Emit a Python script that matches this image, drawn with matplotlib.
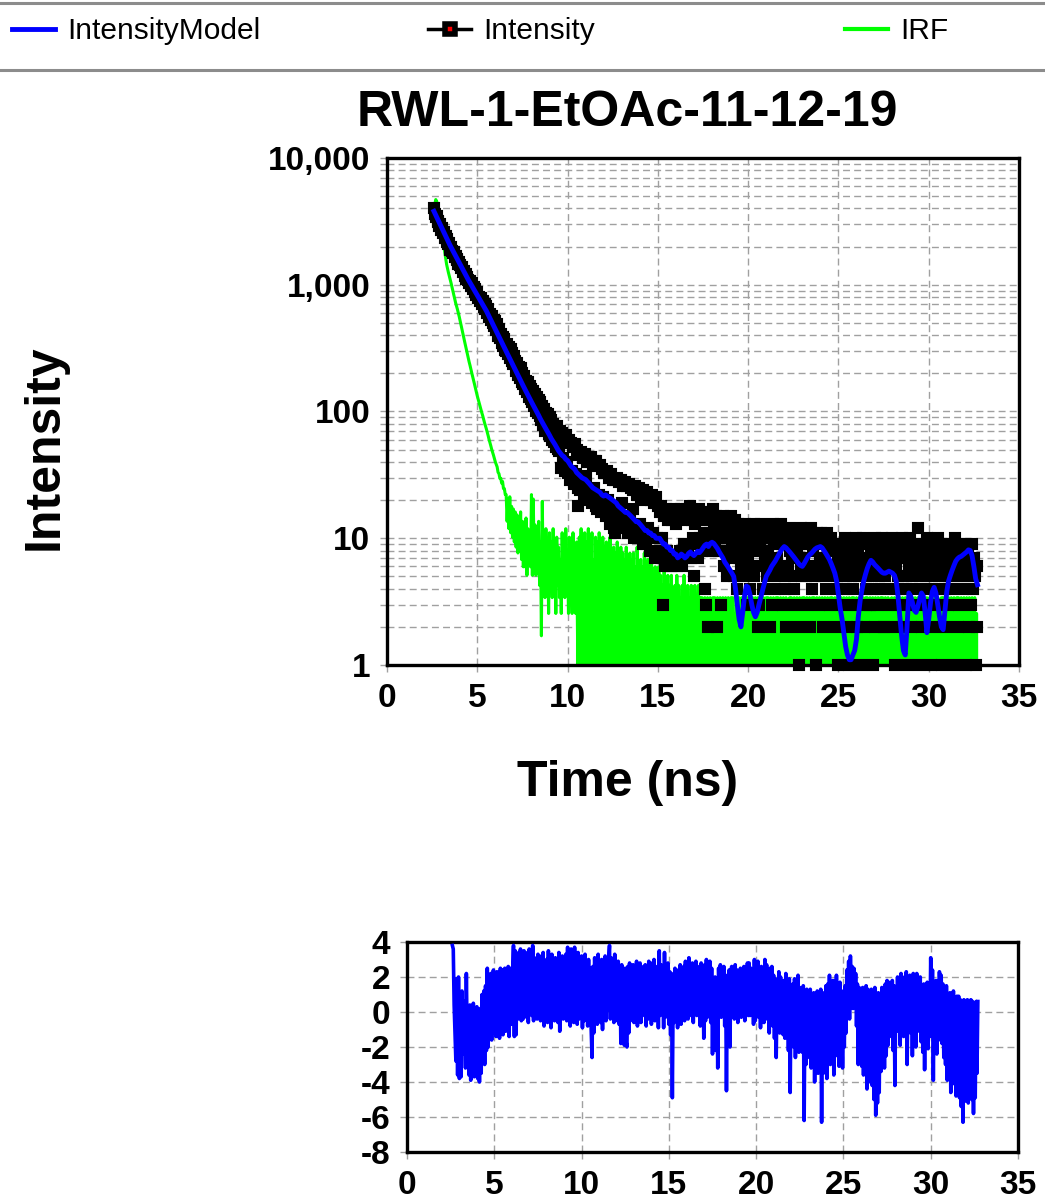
import numpy as np
import matplotlib
matplotlib.use("Agg")
import matplotlib.pyplot as plt
from matplotlib.lines import Line2D
from matplotlib.ticker import FixedLocator, FuncFormatter, LogLocator, NullFormatter

# ---------------- data ----------------
# Model curve: time grid starting at 2.6 ns, step 0.1 ns
T_START = 2.6
T_STEP_MODEL = 0.1
# Intensity / IRF / residuals: time grid starting at 2.6 ns, step 0.05 ns
T_STEP_FINE = 0.05

MODEL = [
    3800, 3545, 3308, 3086, 2879, 2686, 2506, 2338, 2182, 2035,
    1913, 1798, 1690, 1589, 1494, 1404, 1320, 1241, 1166, 1096,
    1036, 979, 925, 874, 826, 781, 738, 697, 659, 623,
    583, 545, 509, 476, 445, 416, 389, 364, 340, 318,
    298, 279, 261, 244, 228, 213, 200, 187, 175, 164,
    154, 144, 135, 127, 119, 112, 105, 99, 93, 87,
    82, 77, 73, 69, 65, 61, 58, 55, 52, 49,
    47, 45, 44, 42, 41, 39, 37, 36, 35, 33,
    32, 31, 30, 29.5, 29, 28, 27, 26, 25, 24.5,
    24, 23.5, 23, 22, 21.5, 22, 21.5, 21, 20.5, 20,
    19.5, 19, 18, 17.5, 17, 16.5, 16, 16, 15.5, 15,
    14.5, 14, 13.5, 13.5, 13, 12.5, 12, 11.5, 11.5, 11,
    11, 10.5, 10.5, 10, 10, 10, 9.5, 9, 9, 8.5,
    8.5, 8, 8, 7.5, 7.5, 7, 7.2, 7.5, 7.3, 7.0,
    7.2, 7.6, 7.8, 7.5, 7.3, 7.6, 7.9, 7.7, 8.0, 8.4,
    8.8, 9.0, 8.6, 9.1, 9.3, 9.1, 8.7, 8.3, 7.8, 7.4,
    7.0, 6.5, 6.2, 5.9, 5.6, 5.3, 5.0, 4.0, 3.0, 2.3,
    2.0, 2.6, 3.5, 4.2, 4.1, 3.6, 3.0, 2.6, 2.4, 2.6,
    3.0, 3.4, 3.9, 4.4, 5.0, 5.3, 5.6, 6.0, 6.3, 6.6,
    7.0, 7.4, 7.9, 8.3, 8.6, 8.4, 8.1, 7.8, 7.5, 7.2,
    6.9, 6.6, 6.3, 6.1, 6.0, 6.3, 6.7, 7.1, 7.4, 7.6,
    7.9, 8.2, 8.4, 8.5, 8.6, 8.4, 8.0, 7.6, 7.2, 6.8,
    6.3, 5.8, 5.3, 4.6, 3.6, 2.8, 2.3, 1.8, 1.4, 1.2,
    1.1, 1.1, 1.2, 1.3, 1.6, 2.4, 3.2, 3.9, 4.6, 5.2,
    5.8, 6.3, 6.7, 6.5, 6.2, 6.0, 5.8, 5.6, 5.4, 5.3,
    5.3, 5.4, 5.5, 5.4, 5.3, 5.1, 4.6, 3.5, 2.4, 1.7,
    1.3, 1.2, 2.0, 3.7, 3.5, 3.1, 2.7, 2.6, 2.9, 3.3,
    3.7, 3.5, 2.6, 1.8, 2.3, 3.1, 3.8, 4.1, 3.7, 3.0,
    2.4, 2.0, 1.9, 2.7, 3.8, 4.6, 5.1, 5.6, 6.1, 6.6,
    6.9, 7.1, 7.2, 7.4, 7.6, 7.8, 8.1, 8.0, 7.3, 6.0,
    4.8, 4.3,
]

INTENSITY = [
    4030, 3640, 3420, 3470, 3150, 3200, 2900, 3010, 2700, 2790,
    2560, 2610, 2350, 2430, 2190, 2280, 2090, 2130, 1880, 1990,
    1850, 1770, 1810, 1660, 1700, 1560, 1600, 1450, 1500, 1420,
    1350, 1370, 1250, 1290, 1180, 1215, 1120, 1150, 1090, 1040,
    1070, 980, 1040, 930, 960, 880, 930, 830, 870, 790,
    800, 750, 790, 710, 740, 670, 700, 640, 680, 600,
    640, 560, 590, 525, 570, 500, 530, 470, 520, 440,
    490, 395, 450, 380, 410, 350, 390, 330, 370, 305,
    300, 340, 285, 320, 265, 310, 250, 290, 235, 275,
    250, 210, 240, 195, 225, 185, 220, 172, 200, 165,
    190, 150, 175, 142, 170, 130, 160, 125, 150, 118,
    145, 110, 138, 100, 130, 97, 123, 92, 118, 86,
    110, 78, 104, 70, 98, 74, 95, 66, 90, 64,
    85, 60, 80, 57, 74, 52, 77, 51, 70, 49,
    70, 36, 68, 43, 62, 34, 65, 40, 58, 33,
    60, 29, 56, 34, 52, 27, 55, 32, 50, 25,
    18, 45, 24, 48, 29, 43, 22, 46, 31, 40,
    42, 20, 40, 23, 44, 19, 38, 25, 41, 18,
    41, 17, 37, 22, 38, 16, 35, 21, 33, 17,
    33, 15, 34, 20, 30, 13, 32, 16, 29, 12,
    11, 29, 14, 30, 17, 28, 13, 29, 19, 26,
    27, 12, 28, 15, 26, 11, 27, 14, 25, 12,
    17, 24, 10, 26, 12, 22, 11, 25, 13, 21,
    22, 9, 24, 11, 20, 9, 23, 12, 21, 8,
    20, 8, 22, 11, 19, 7, 21, 10, 18, 8,
    16, 7, 18, 10, 3, 15, 6, 17, 8, 14,
    15, 6, 16, 6, 14, 7, 17, 7, 13, 6,
    16, 7, 15, 8, 17, 6, 14, 9, 16, 7,
    17, 8, 15, 9, 18, 7, 14, 10, 5, 13,
    16, 9, 15, 7, 17, 10, 14, 8, 16, 11,
    4, 3, 14, 9, 2, 15, 11, 16, 8, 17,
    13, 9, 15, 10, 2, 12, 8, 14, 3, 11,
    15, 6, 12, 8, 14, 5, 10, 13, 7, 15,
    9, 12, 5, 14, 8, 11, 4, 13, 7, 10,
    6, 12, 9, 5, 13, 8, 11, 3, 7, 10,
    4, 12, 6, 9, 13, 5, 10, 8, 11, 2,
    3, 9, 13, 6, 10, 4, 12, 7, 11, 5,
    8, 12, 2, 10, 3, 13, 6, 9, 4, 11,
    7, 12, 5, 10, 13, 6, 9, 3, 11, 4,
    2, 10, 6, 12, 8, 5, 11, 7, 9, 4,
    3, 11, 8, 2, 1, 10, 6, 12, 5, 9,
    7, 11, 5, 3, 10, 6, 9, 2, 12, 4,
    8, 10, 5, 1, 11, 6, 3, 9, 7, 11,
    5, 2, 10, 7, 4, 11, 6, 9, 8, 3,
    10, 6, 8, 5, 2, 9, 4, 1, 7, 5,
    9, 6, 3, 8, 4, 10, 5, 2, 7, 6,
    1, 8, 5, 9, 4, 3, 7, 10, 6, 2,
    8, 5, 9, 1, 6, 10, 2, 7, 3, 4,
    9, 5, 7, 3, 8, 4, 1, 6, 10, 2,
    7, 3, 9, 5, 8, 4, 10, 6, 2, 8,
    5, 9, 2, 7, 3, 8, 6, 10, 4, 7,
    9, 1, 6, 8, 5, 2, 7, 3, 10, 4,
    8, 5, 9, 4, 1, 7, 6, 10, 2, 5,
    3, 8, 6, 9, 4, 7, 12, 1, 5, 8,
    6, 2, 9, 3, 7, 5, 10, 4, 8, 6,
    1, 9, 5, 7, 2, 8, 3, 6, 10, 4,
    7, 5, 9, 1, 6, 8, 4, 2, 7, 3,
    9, 5, 8, 4, 7, 6, 1, 10, 5, 8,
    2, 7, 3, 9, 5, 8, 4, 6, 9, 1,
    7, 5, 8, 2, 6, 3, 9, 4, 7, 5,
    1, 2, 6,
]

IRF_SCALE = 0.85
IRF_COUNTS = [
    4588, 5100, 5529, 5350, 5059, 4720, 4353, 3950, 3529, 3100,
    2706, 2400, 2118, 1900, 1706, 1580, 1471, 1380, 1294, 1210,
    1129, 1050, 976, 910, 847, 800, 753, 705, 659, 610,
    565, 522, 482, 449, 418, 388, 359, 332, 308, 289,
    271, 252, 235, 220, 206, 192, 179, 167, 156, 147,
    138, 130, 122, 115, 109, 102, 96, 91, 86, 81,
    76, 71, 67, 63, 59, 56, 53, 50, 47, 45,
    43, 39, 38, 35, 35, 32, 33, 29, 29, 26,
    26, 16, 24, 14, 25, 13, 21, 12, 20, 11,
    19, 10, 18, 9, 17, 11, 19, 8, 16, 7,
    15, 7, 17, 6, 14, 8, 13, 7, 26, 6,
    24, 8, 15, 6, 13, 9, 16, 5, 11, 2,
    23, 6, 12, 4, 14, 7, 10, 3, 13, 5,
    11, 4, 14, 6, 9, 3, 12, 5, 10, 4,
    8, 3, 13, 5, 11, 4, 14, 6, 9, 3,
    12, 4, 10, 3, 13, 5, 8, 3, 11, 2,
    0, 12, 3, 14, 1, 10, 4, 13, 0, 11,
    2, 14, 0, 9, 3, 13, 1, 8, 0, 12,
    4, 11, 0, 13, 2, 9, 1, 12, 0, 10,
    3, 11, 0, 8, 2, 12, 1, 9, 0, 10,
    2, 9, 0, 11, 3, 8, 0, 10, 1, 9,
    0, 8, 2, 10, 1, 7, 0, 9, 3, 8,
    0, 9, 1, 7, 0, 10, 2, 6, 0, 8,
    1, 7, 0, 9, 2, 6, 0, 8, 1, 7,
    0, 8, 2, 6, 0, 7, 1, 5, 0, 7,
    2, 6, 0, 5, 1, 7, 0, 4, 2, 6,
    0, 5, 1, 6, 0, 4, 2, 5, 0, 6,
    1, 5, 0, 4, 2, 5, 0, 6, 1, 4,
    0, 5, 2, 4, 0, 5, 1, 4, 0, 5,
    2, 4, 0, 5, 1, 4, 0, 4, 3, 0,
    4, 0, 3, 4, 1, 0, 4, 2, 0, 4,
    1, 4, 0, 3, 4, 0, 2, 4, 1, 0,
    4, 2, 0, 4, 3, 1, 4, 0, 2, 4,
    0, 4, 1, 3, 0, 4, 2, 0, 4, 3,
    1, 4, 0, 2, 4, 0, 3, 4, 1, 0,
    4, 3, 0, 4, 1, 2, 4, 0, 3, 4,
    0, 2, 4, 1, 0, 4, 3, 0, 4, 2,
    4, 0, 1, 4, 3, 0, 4, 2, 0, 4,
    2, 4, 0, 3, 4, 1, 0, 4, 2, 0,
    4, 1, 3, 0, 4, 2, 4, 0, 1, 4,
    0, 3, 4, 0, 2, 4, 1, 0, 4, 3,
    4, 0, 2, 4, 0, 3, 4, 1, 0, 4,
    1, 4, 0, 3, 4, 0, 2, 4, 0, 1,
    4, 2, 0, 4, 1, 3, 4, 0, 2, 4,
    0, 4, 3, 0, 4, 1, 0, 4, 2, 0,
    3, 4, 0, 1, 4, 2, 0, 4, 3, 0,
    4, 1, 0, 4, 2, 4, 0, 3, 4, 1,
    0, 4, 2, 0, 3, 4, 1, 0, 4, 2,
    4, 0, 3, 4, 0, 1, 4, 2, 0, 4,
    1, 3, 4, 0, 2, 4, 0, 4, 1, 0,
    4, 2, 0, 4, 3, 0, 1, 4, 0, 3,
    4, 0, 2, 4, 1, 0, 4, 3, 0, 4,
    2, 0, 4, 1, 3, 4, 0, 2, 4, 0,
    4, 3, 0, 4, 1, 0, 4, 2, 3, 0,
    4, 1, 2, 4, 0, 3, 4, 0, 1, 4,
    0, 4, 3, 0, 2, 4, 1, 0, 4, 3,
    1, 0, 4, 2, 4, 0, 3, 4, 0, 2,
    4, 0, 1, 4, 3, 0, 4, 2, 0, 4,
    3, 4, 0, 2, 4, 1, 0, 4, 3, 0,
    4, 2, 0, 4, 1, 3, 4, 0, 2, 4,
    0, 3, 0,
]

RESIDUALS = [
    3.8, 3.6, 0.4, -1.3, -2.8, 1.9, -3.6, 2.0, -3.8, 0.6,
    -3.7, 1.2, -2.4, -0.5, 0.6, -3.2, 2.2, -1.8, 0.3, -3.6,
    0.4, -3.9, -0.3, -2.6, 0.5, -3.7, -0.2, -1.2, 0.3, -3.8,
    -0.4, -4.0, 0.2, -3.5, 1.0, -2.3, 1.2, -3.0, 1.5, -2.2,
    2.5, -2.0, 1.8, -1.4, 2.2, -1.6, 1.3, 2.4, -1.2, 1.7,
    -1.4, 2.3, -0.8, 1.9, -1.5, 2.5, -0.6, 2.4, -1.3, 1.8,
    2.5, -1.1, 2.3, -0.5, 2.6, -1.4, 1.9, 2.5, -0.7, 2.2,
    3.8, -1.4, 3.5, -1.3, 2.9, -0.4, 3.4, 0.2, 3.6, -0.5,
    3.2, -0.4, 3.5, 0.3, 2.8, -0.3, 3.4, -0.6, 3.6, 0.1,
    3.0, -0.2, 3.8, -0.5, 3.1, 0.2, 2.7, -0.4, 3.3, -0.3,
    2.9, -0.5, 3.2, 0.0, 3.4, -0.8, 2.8, -0.3, 3.0, -0.6,
    3.5, -0.4, 2.7, -0.9, 3.3, 0.1, 2.6, -0.5, 3.1, -0.3,
    3.0, -0.6, 3.4, -1.1, 2.9, -0.2, 3.2, -0.4, 2.7, 0.2,
    3.3, -0.5, 3.7, -0.3, 3.0, -0.8, 3.6, 0.0, 2.8, -0.6,
    3.7, -0.2, 3.1, -0.7, 3.4, -0.4, 2.6, 0.3, 3.2, -0.9,
    2.9, -0.5, 3.3, -0.1, 2.7, -0.8, 3.0, -0.6, 2.5, -1.0,
    -2.6, 2.6, -1.2, 3.1, -0.4, 2.9, -0.7, 3.3, 0.0, 2.7,
    -0.6, 3.0, -1.0, 2.8, -0.3, 3.2, -0.5, 2.5, 0.1, 3.0,
    3.8, -0.4, 3.1, -0.2, 2.8, -0.6, 3.3, 0.2, 2.6, -0.5,
    2.9, -0.7, 2.4, -1.8, 2.7, -0.4, 2.2, -1.9, 2.5, -1.7,
    -2.0, 2.6, -1.2, 2.8, -0.5, 2.3, 0.0, 2.7, -0.6, 2.4,
    -0.3, 2.9, -0.8, 2.5, 0.1, 2.8, -0.6, 2.3, -0.2, 2.6,
    0.3, 2.7, -0.8, 2.4, -0.4, 2.9, 0.2, 2.5, -0.7, 2.8,
    -0.3, 3.0, -0.5, 2.6, 0.0, 2.2, -0.9, 3.5, -0.2, 2.7,
    0.2, 2.6, -0.9, 3.4, -0.3, 2.5, 0.1, 2.8, -0.7, 2.3,
    -1.3, 2.2, -4.9, 1.6, -0.6, 2.5, -0.4, 2.4, -0.9, 2.0,
    0.5, 2.7, -0.7, 2.4, 0.0, 2.6, -0.5, 2.9, -0.3, 2.3,
    -0.4, 3.1, -0.2, 2.5, 0.6, 2.8, -0.6, 2.4, 0.1, 2.9,
    -0.2, 2.6, 0.3, 2.2, -0.8, 2.8, 0.1, 2.4, -1.5, 2.7,
    -0.5, 3.0, -0.3, 2.6, 0.2, 2.9, -0.6, 2.5, -2.4, 1.8,
    -1.6, 2.0, -2.2, 1.5, -3.2, 2.5, 0.4, 2.7, -0.3, 2.3,
    0.1, 2.6, -0.8, 2.1, -4.5, 1.6, -1.2, 2.4, -2.0, 2.2,
    2.6, 0.1, 2.3, -0.4, 2.7, 0.5, 2.4, -0.6, 2.1, 0.2,
    2.5, -0.3, 2.2, 0.4, 2.6, -0.5, 2.3, 0.1, 2.8, -0.2,
    2.8, -0.2, 2.5, 0.6, 2.4, -0.7, 3.0, -0.5, 2.7, 0.0,
    2.9, -0.3, 2.4, -0.9, 2.6, 0.2, 2.2, -0.6, 3.0, -0.4,
    2.7, 0.3, 2.2, -1.2, 2.5, -0.3, 2.6, -0.8, 2.1, -1.5,
    1.9, -2.6, 1.5, -0.8, 2.3, -1.2, 2.0, -0.5, 1.7, -1.3,
    1.8, -1.5, 2.2, -0.9, 1.6, -2.2, 1.9, -4.6, 1.4, -1.8,
    1.6, -2.0, 1.9, -2.6, 1.2, -1.5, 2.1, -2.3, 1.4, -1.7,
    1.2, -2.3, 1.5, -6.2, 1.0, -3.0, 1.3, -1.8, 0.8, -2.6,
    1.3, -3.2, 0.7, -2.5, 1.1, -4.0, 0.9, -2.8, 1.2, -3.5,
    0.9, -2.6, 1.3, -6.3, 0.6, -3.5, 1.1, -2.9, 1.5, -3.8,
    1.6, -2.7, 2.1, -3.0, 1.4, -2.2, 1.8, -3.6, 1.2, -2.5,
    2.1, -1.9, 1.5, -3.1, 1.7, -2.4, 1.2, -3.2, 0.9, -2.0,
    1.5, -1.2, 2.4, 0.3, 2.9, -0.4, 3.2, 0.5, 2.6, 0.2,
    2.5, 0.4, 2.2, -0.8, 1.6, -3.0, 1.4, -2.2, 1.3, -3.1,
    1.4, -3.6, 1.2, -2.8, 1.5, -4.4, 1.3, -3.5, 1.1, -4.0,
    1.3, -4.2, 1.0, -5.0, 1.4, -5.9, 0.9, -5.2, 1.1, -4.6,
    1.0, -3.4, 1.4, -2.8, 0.9, -3.2, 1.6, -2.5, 1.8, -1.9,
    1.7, -1.4, 1.2, -0.5, 1.8, -2.2, 1.5, -4.2, 1.4, -1.1,
    2.0, -0.8, 1.6, -1.9, 2.2, -0.6, 1.7, -1.4, 2.0, -1.0,
    2.3, -3.0, 1.5, -0.4, 2.1, -1.2, 1.9, -2.5, 2.2, -0.6,
    1.8, -2.0, 2.2, -1.1, 1.6, -0.9, 2.0, -1.7, 1.4, -2.3,
    1.6, -3.3, 1.1, -0.9, 1.7, -2.1, 1.5, -1.4, 3.1, -0.5,
    2.4, -3.9, 1.4, -1.1, 1.8, -2.4, 1.3, -1.6, 2.3, -0.8,
    2.1, -1.8, 1.6, -2.6, 1.3, -3.0, 1.5, -3.9, 1.0, -3.4,
    1.1, -4.6, 0.9, -3.5, 1.2, -4.1, 0.8, -4.8, 0.9, -3.7,
    0.9, -4.9, 0.7, -5.4, 0.6, -6.3, 0.7, -5.1, 0.5, -4.4,
    0.7, -5.2, 0.6, -4.3, 0.7, -5.0, 0.6, -5.8, 0.5, -4.9,
    0.6, -3.5, 0.6,
]

TITLE = "RWL-1-EtOAc-11-12-19"
X_LABEL = "Time (ns)"
Y_LABEL = "Intensity"
LEGEND_LABELS = ["IntensityModel", "Intensity", "IRF"]
X_TICKS = [0, 5, 10, 15, 20, 25, 30, 35]
Y_TICKS = [1, 10, 100, 1000, 10000]
RES_Y_TICKS = [-8, -6, -4, -2, 0, 2, 4]


def time_axis(values, step):
    return T_START + step * np.arange(len(values))


# ---------------- figure ----------------
plt.rcParams["font.family"] = ["Liberation Sans", "DejaVu Sans"]
plt.rcParams["axes.unicode_minus"] = False

W, H = 1045, 1201
fig = plt.figure(figsize=(W / 100, H / 100), dpi=100)

GRID_KW = dict(color="#a0a0a0", linestyle=(0, (5, 3)), linewidth=1.0)
TICK_FONT = dict(family="Liberation Sans", weight="bold", size=24)

# main decay axes
ax = fig.add_axes([387 / W, 1 - 665 / H, 632 / W, 507 / H])
ax.set_yscale("log")

irf_line, = ax.plot(time_axis(IRF_COUNTS, T_STEP_FINE), np.array(IRF_COUNTS) * IRF_SCALE,
                    color="#00ff00", lw=2.2, zorder=2)
ax.plot(time_axis(INTENSITY, T_STEP_FINE), INTENSITY, linestyle="none", marker="s",
        ms=5.0, mfc="#ff0000", mec="black", mew=4.4, zorder=3, clip_on=False)
model_line, = ax.plot(time_axis(MODEL, T_STEP_MODEL), MODEL, color="#0000ff",
                      lw=3.5, zorder=4)

ax.set_xlim(0, 35)
ax.set_ylim(1, 10000)
ax.xaxis.set_major_locator(FixedLocator(X_TICKS))
ax.yaxis.set_major_locator(FixedLocator(Y_TICKS))
ax.yaxis.set_minor_locator(LogLocator(base=10, subs=np.arange(2, 10)))
ax.yaxis.set_minor_formatter(NullFormatter())
ax.yaxis.set_major_formatter(FuncFormatter(lambda v, _: f"{v:,.0f}"))
ax.grid(True, which="both", axis="y", **GRID_KW)
ax.grid(True, which="major", axis="x", **GRID_KW)
ax.set_axisbelow(True)

# residual axes
axr = fig.add_axes([407 / W, 1 - 1152 / H, 611 / W, 210 / H])
axr.plot(time_axis(RESIDUALS, T_STEP_FINE), RESIDUALS, color="#0000ff", lw=2.6, zorder=3)
axr.set_xlim(0, 35)
axr.set_ylim(-8, 4)
axr.xaxis.set_major_locator(FixedLocator(X_TICKS))
axr.yaxis.set_major_locator(FixedLocator(RES_Y_TICKS))
axr.grid(True, which="major", **GRID_KW)
axr.set_axisbelow(True)

for a in (ax, axr):
    for s in a.spines.values():
        s.set_linewidth(2.4)
        s.set_color("black")
    a.tick_params(which="both", direction="out", length=5, width=1,
                  color="#a0a0a0", pad=7)
    for lbl in a.get_xticklabels() + a.get_yticklabels():
        lbl.set_fontproperties(TICK_FONT)
ax.tick_params(axis="x", pad=8)
axr.tick_params(axis="x", pad=8)

# titles / labels
fig.text(627 / W, 1 - 113 / H, TITLE, ha="center", va="center",
         fontsize=36, fontweight="bold")
fig.text(628 / W, 1 - 783 / H, X_LABEL, ha="center", va="center",
         fontsize=36, fontweight="bold")
fig.text(45 / W, 1 - 447 / H, Y_LABEL, ha="center", va="center",
         rotation=90, fontsize=36, fontweight="bold")

# legend band
for yy in (3, 70):
    fig.add_artist(Line2D([0, 1], [1 - yy / H, 1 - yy / H], transform=fig.transFigure,
                          color="#8c8c8c", lw=2.2))

int_handle = Line2D([], [], color="black", lw=2.5, marker="s", ms=7.6,
                    mfc="#ff0000", mec="black", mew=4.0)
irf_handle = Line2D([], [], color="#00ff00", lw=3.0)
LEG_KW = dict(loc="center left", frameon=False, borderpad=0, borderaxespad=0,
              handlelength=1.45, handletextpad=0.4,
              prop=dict(family="Liberation Sans", size=21.5))
for handle, label, x0 in zip([model_line, int_handle, irf_handle], LEGEND_LABELS,
                             [12, 428, 845]):
    fig.legend(handles=[handle], labels=[label],
               bbox_to_anchor=(x0 / W, 1 - 31 / H), **LEG_KW)

fig.savefig("out.png", dpi=100)
